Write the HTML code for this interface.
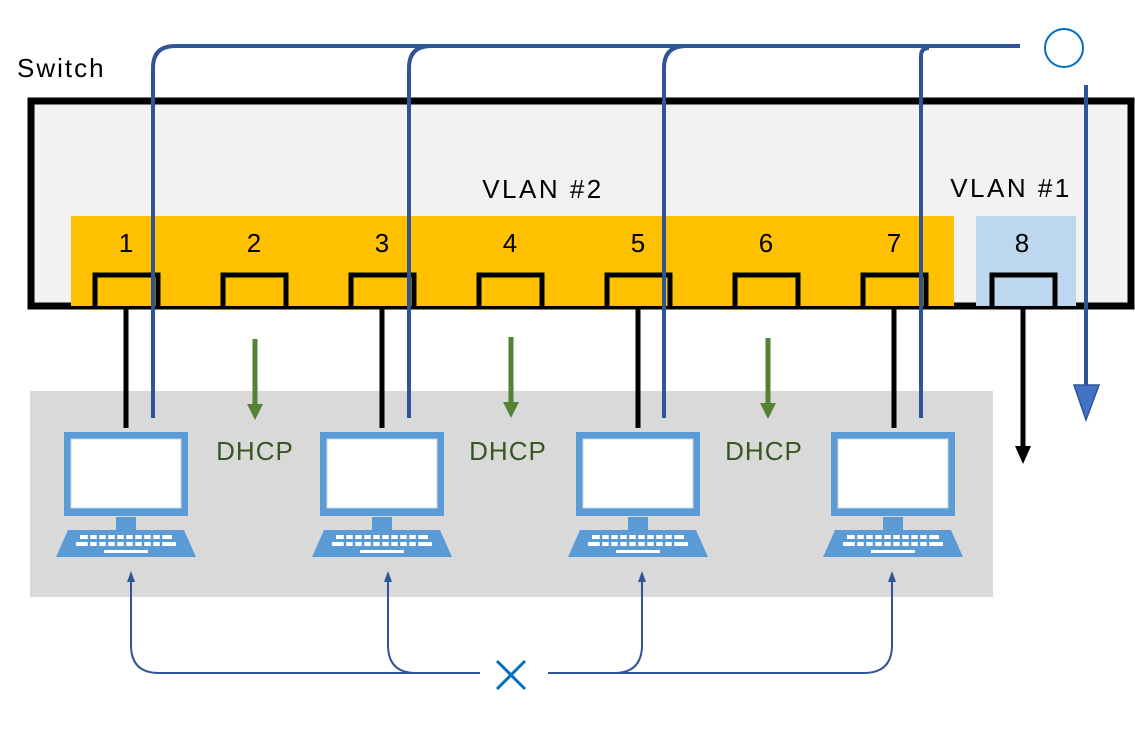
<!DOCTYPE html>
<html><head><style>body{margin:0;background:#fff}svg{display:block}text{font-family:"Liberation Sans","DejaVu Sans",sans-serif}</style></head><body>
<svg width="1135" height="741" viewBox="0 0 1135 741" xmlns="http://www.w3.org/2000/svg">
<defs>
<g id="lap">
<rect x="-62" y="0" width="124" height="84" fill="#5b9bd5"/>
<rect x="-55" y="7" width="110" height="69" fill="#fff" stroke="#c8d6e4" stroke-width="1"/>
<rect x="-10" y="85" width="20" height="13" fill="#5b9bd5"/>
<polygon points="-58,98 58,98 70,125 -70,125" fill="#5b9bd5"/>
<g fill="#fff">
<rect x="-46" y="103" width="92" height="4"/>
<rect x="-50" y="110" width="100" height="4"/>
<rect x="-22" y="118" width="44" height="3"/>
</g>
<g stroke="#5b9bd5" stroke-width="2.5">
<path d="M-37,102v13M-28,102v13M-19,102v13M-10,102v13M-1,102v13M8,102v13M17,102v13M26,102v13M35,102v13"/>
</g>
</g>
</defs>
<rect x="30" y="391" width="963" height="206" fill="#d9d9d9"/>
<rect x="31" y="101" width="1100" height="205" fill="#f2f2f2" stroke="#000" stroke-width="7"/>
<rect x="71" y="216" width="883" height="90" fill="#ffc000"/>
<rect x="976" y="216" width="100" height="90" fill="#bdd7ee"/>
<g stroke="#000" stroke-width="5" fill="none">
<path d="M95,306V275H158V306"/><path d="M223,306V275H286V306"/><path d="M351,306V275H414V306"/><path d="M479,306V275H542V306"/>
<path d="M607,306V275H670V306"/><path d="M735,306V275H798V306"/><path d="M863,306V275H926V306"/><path d="M992,306V275H1055V306"/>
</g>
<g font-size="26" text-anchor="middle" fill="#000">
<text x="126" y="252">1</text><text x="254" y="252">2</text><text x="382" y="252">3</text><text x="510" y="252">4</text>
<text x="638" y="252">5</text><text x="766" y="252">6</text><text x="894" y="252">7</text><text x="1022" y="252">8</text>
<text x="543" y="198" letter-spacing="2.5">VLAN #2</text><text x="1011" y="197" letter-spacing="2.5">VLAN #1</text>
</g>
<text x="17" y="77" font-size="26" letter-spacing="2">Switch</text>
<g stroke="#000" stroke-width="5">
<line x1="126" y1="308" x2="126" y2="428"/><line x1="382" y1="308" x2="382" y2="428"/>
<line x1="638" y1="308" x2="638" y2="428"/><line x1="894" y1="308" x2="894" y2="428"/>
<line x1="1023" y1="308" x2="1023" y2="448"/>
</g>
<polygon points="1015,446 1031,446 1023,464" fill="#000"/>
<g stroke="#548235" stroke-width="5"><line x1="255" y1="339" x2="255" y2="406"/><line x1="511" y1="337" x2="511" y2="404"/><line x1="768" y1="338" x2="768" y2="405"/></g>
<g fill="#548235"><polygon points="247,404 263,404 255,420"/><polygon points="503,402 519,402 511,418"/><polygon points="760,403 776,403 768,419"/></g>
<g font-size="26" fill="#375623" text-anchor="middle" letter-spacing="1"><text x="255" y="460">DHCP</text><text x="508" y="460">DHCP</text><text x="764" y="460">DHCP</text></g>
<g stroke="#2f5597" stroke-width="4" fill="none">
<path d="M153,418V68Q153,46 175,46H1020"/>
<path d="M409,418V68Q409,46 431,46H1020"/>
<path d="M664,418V68Q664,46 686,46H1020"/>
<path d="M921,418V56Q921,48 929,48"/>
<line x1="1086" y1="85" x2="1086" y2="395"/>
</g>
<polygon points="1074,385 1099,385 1086,420" fill="#4472c4" stroke="#2f5597" stroke-width="1.5"/>
<circle cx="1064" cy="48" r="19" fill="none" stroke="#0070c0" stroke-width="2"/>
<use href="#lap" x="126" y="432"/><use href="#lap" x="382" y="432"/><use href="#lap" x="638" y="432"/><use href="#lap" x="893" y="432"/>
<g stroke="#2f5597" stroke-width="2" fill="none">
<path d="M131,580V645Q131,673 159,673H480"/>
<path d="M388,580V645Q388,673 416,673"/>
<path d="M642,580V645Q642,673 614,673"/>
<path d="M892,580V645Q892,673 864,673H548"/>
</g>
<g fill="#2f5597"><polygon points="127,582 135,582 131,571"/><polygon points="384,582 392,582 388,571"/><polygon points="638,582 646,582 642,571"/><polygon points="888,582 896,582 892,571"/></g>
<g stroke="#0070c0" stroke-width="3"><line x1="497" y1="661" x2="525" y2="689"/><line x1="525" y1="661" x2="497" y2="689"/></g>
</svg>
</body></html>
